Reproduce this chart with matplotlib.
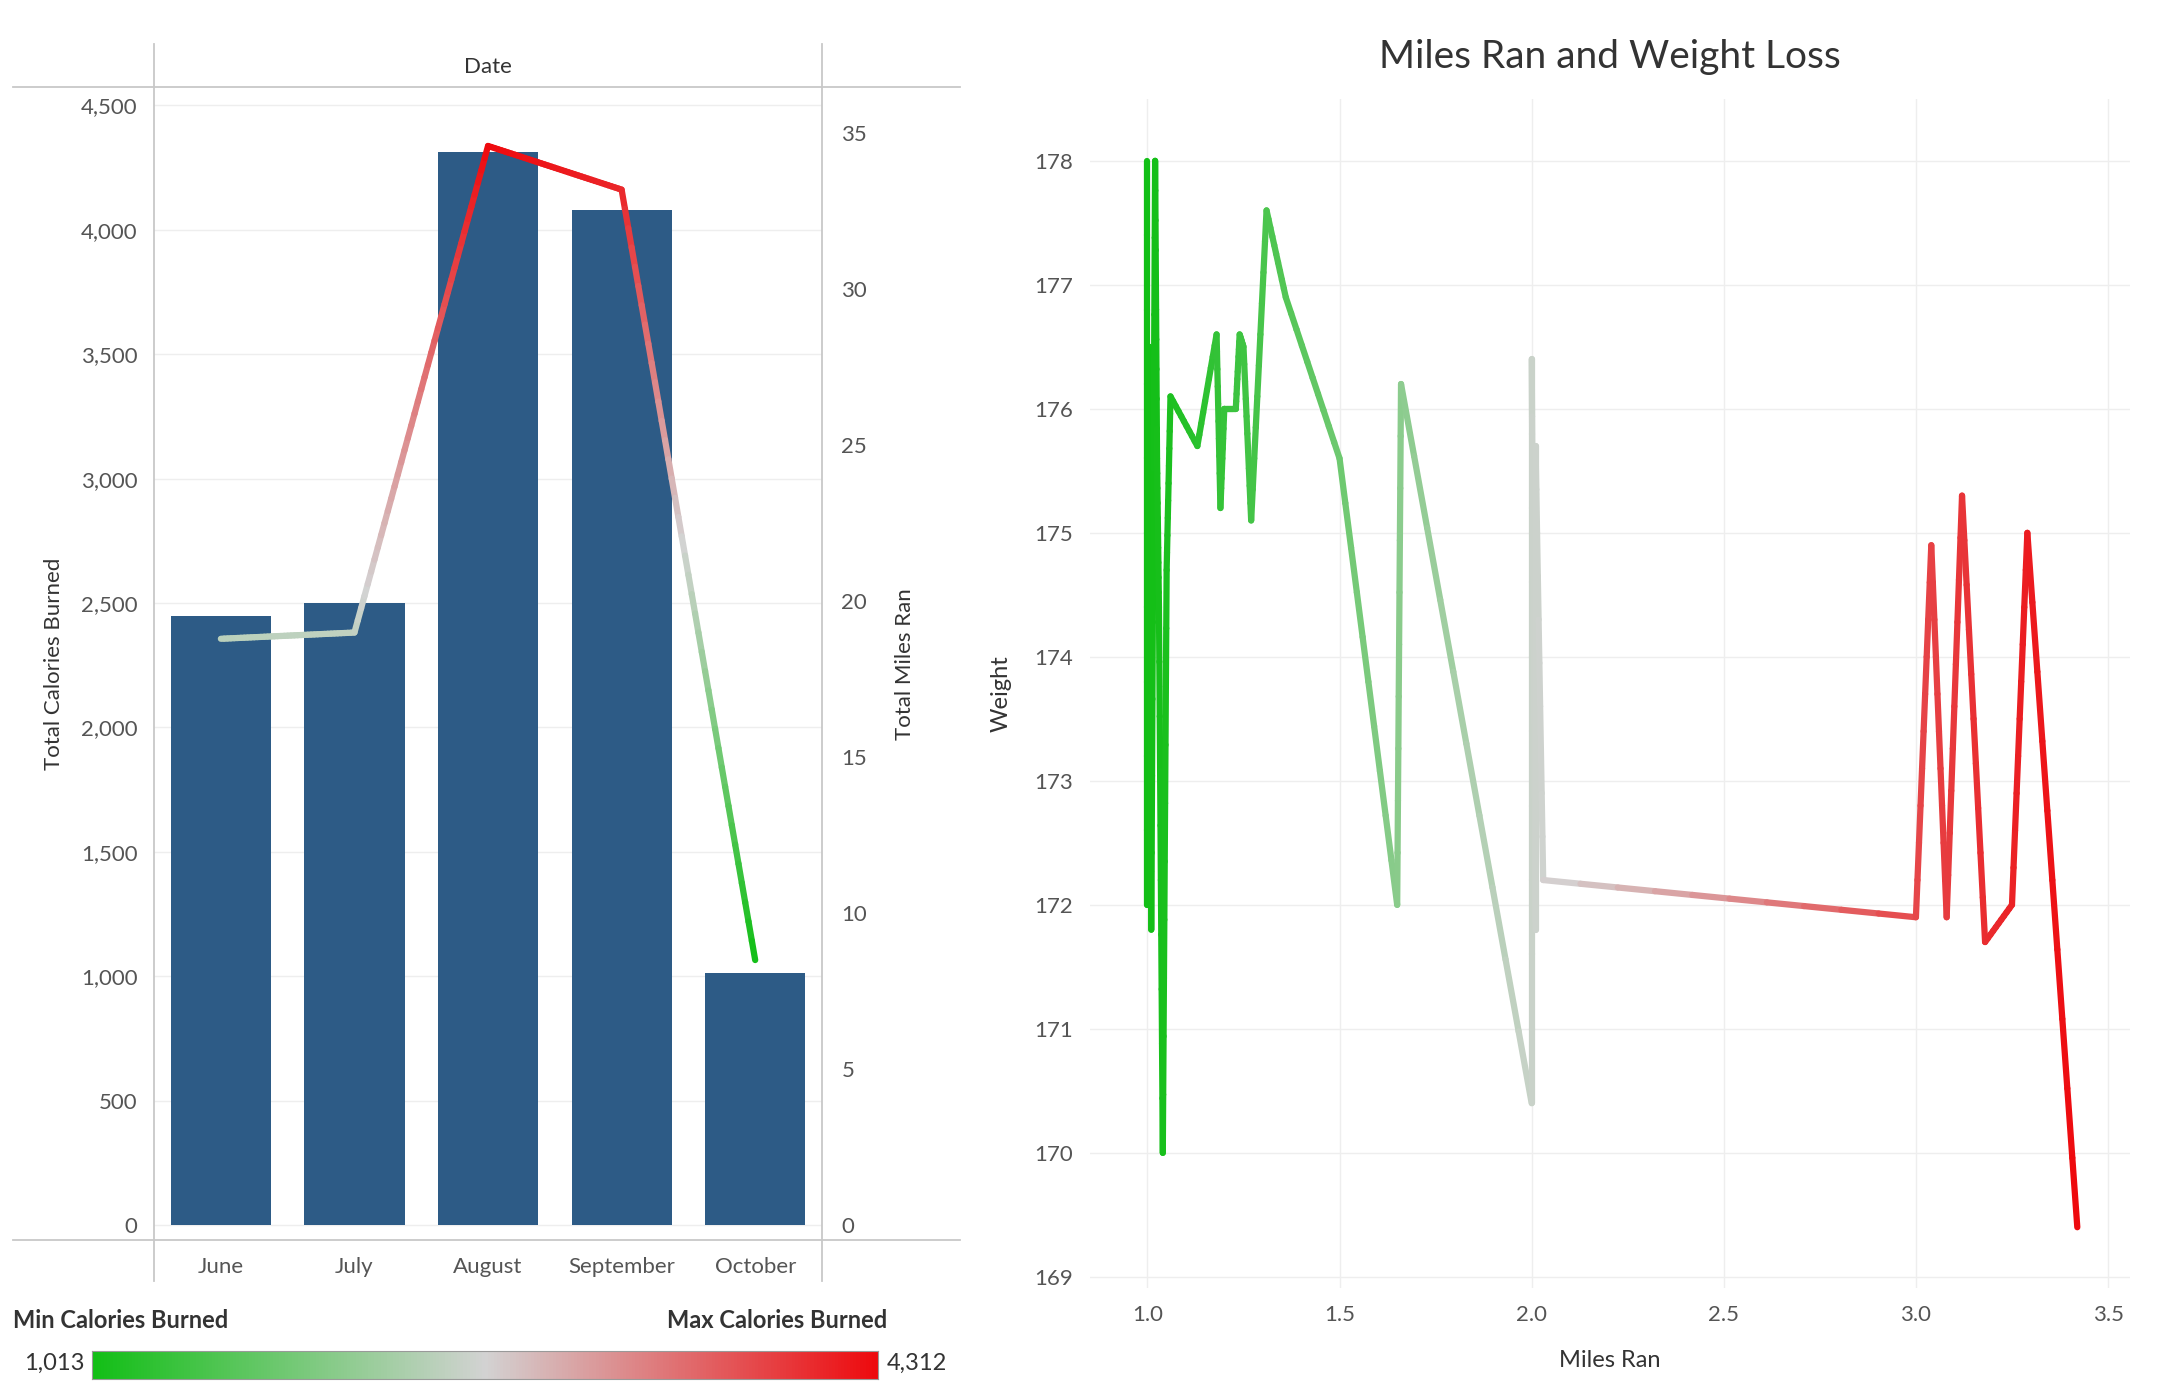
import numpy as np
import matplotlib.pyplot as plt
from matplotlib.collections import LineCollection
from matplotlib.colors import LinearSegmentedColormap, Normalize, TwoSlopeNorm
from matplotlib.lines import Line2D

MONTHS = ["June", "July", "August", "September", "October"]
CALORIES = [2450, 2500, 4312, 4080, 1013]
MILES_TOTAL = [18.8, 19.0, 34.6, 33.2, 8.5]

MILES = [1.0, 1.0, 1.005, 1.01, 1.02, 1.025, 1.03, 1.04, 1.05, 1.06, 1.13, 1.18, 1.19,
         1.2, 1.23, 1.24, 1.25, 1.27, 1.31, 1.36, 1.5, 1.65, 1.66, 2.0, 2.0, 2.01, 2.01,
         2.03, 3.0, 3.04, 3.08, 3.12, 3.18, 3.25, 3.29, 3.42]
WEIGHT = [178, 172, 176.5, 171.8, 178, 175.6, 174.4, 170, 174.7, 176.1, 175.7, 176.6, 175.2,
          176, 176, 176.6, 176.5, 175.1, 177.6, 176.9, 175.6, 172, 176.2, 170.4, 176.4, 171.8,
          175.7, 172.2, 171.9, 174.9, 171.9, 175.3, 171.7, 172, 175, 169.4]

CMAP = LinearSegmentedColormap.from_list("gr", ["#12bf16", "#d3d3d3", "#ee0a0e"])
BAR = "#2d5b86"
TXT = "#555555"
AX_LINE = "#c8c8c8"

plt.rcParams.update({"font.family": ["Lato", "DejaVu Sans"], "font.size": 16})
fig = plt.figure(figsize=(21.58, 13.86), dpi=100)


def gradient_line(ax, xs, ys, cvals, norm, lw, n=40, transform=None):
    segs, cols = [], []
    for i in range(len(xs) - 1):
        t = np.linspace(0, 1, n + 1)
        px = xs[i] + (xs[i + 1] - xs[i]) * t
        py = ys[i] + (ys[i + 1] - ys[i]) * t
        pc = cvals[i] + (cvals[i + 1] - cvals[i]) * t
        for j in range(n):
            segs.append([(px[j], py[j]), (px[j + 1], py[j + 1])])
            cols.append(CMAP(norm((pc[j] + pc[j + 1]) / 2)))
    lc = LineCollection(segs, colors=cols, linewidths=lw, capstyle="round")
    ax.add_collection(lc)


# ---- left: bars + miles line
ax = fig.add_axes([0.0714, 0.105, 0.3095, 0.832])
x = np.arange(len(MONTHS))
ax.bar(x, CALORIES, width=0.75, color=BAR, zorder=2)
ax.set_xlim(-0.5, 4.5)
ax.set_ylim(-62, 4573)
ax.set_yticks(range(0, 4501, 500))
ax.set_yticklabels([f"{v:,}" for v in range(0, 4501, 500)])
ax.set_xticks(x)
ax.set_xticklabels(MONTHS)
ax.grid(axis="y", color="#eeeeee", lw=1)
ax.set_axisbelow(True)
for s in ax.spines.values():
    s.set_visible(False)
ax.tick_params(length=0, colors=TXT, labelsize=16, pad=12)
ax.set_ylabel("Total Calories Burned", fontsize=16, color="#333333", labelpad=12)

ax2 = ax.twinx()
ax2.set_ylim(-0.49, 36.48)
ax2.set_yticks(range(0, 36, 5))
for s in ax2.spines.values():
    s.set_visible(False)
ax2.tick_params(length=0, colors=TXT, labelsize=16, pad=14)
ax2.set_ylabel("Total Miles Ran", fontsize=16, color="#333333", labelpad=20)
gradient_line(ax2, list(x), MILES_TOTAL, CALORIES, Normalize(1013, 4312), 4.5)

# frame lines of the left view
for xf in (0.0714, 0.3809):
    fig.add_artist(Line2D([xf, xf], [0.076, 0.968], color=AX_LINE, lw=1.3))
for yf in (0.937, 0.105):
    fig.add_artist(Line2D([0.006, 0.445], [yf, yf], color=AX_LINE, lw=1.3))
fig.text(0.226, 0.952, "Date", ha="center", va="center", fontsize=16, color="#333333")

# ---- colour legend
cax = fig.add_axes([0.0427, 0.005, 0.364, 0.02])
cax.imshow(np.linspace(0, 1, 256)[None, :], aspect="auto", cmap=CMAP, extent=[0, 1, 0, 1])
cax.set_xticks([])
cax.set_yticks([])
for s in cax.spines.values():
    s.set_color("#999999")
fig.text(0.006, 0.047, "Min Calories Burned", fontsize=17, fontweight="bold", color="#333333", va="center")
fig.text(0.411, 0.047, "Max Calories Burned", fontsize=17, fontweight="bold", color="#333333", va="center", ha="right")
fig.text(0.039, 0.016, "1,013", fontsize=17, color="#333333", va="center", ha="right")
fig.text(0.411, 0.016, "4,312", fontsize=17, color="#333333", va="center", ha="left")

# ---- right: miles vs weight
bx = fig.add_axes([0.505, 0.0707, 0.482, 0.858])
gradient_line(bx, MILES, WEIGHT, MILES, TwoSlopeNorm(vcenter=2.05, vmin=1.0, vmax=3.42), 4.5, n=10)
bx.set_xlim(0.85, 3.557)
bx.set_ylim(168.91, 178.5)
bx.set_xticks([1.0, 1.5, 2.0, 2.5, 3.0, 3.5])
bx.set_yticks(range(169, 179))
bx.grid(color="#eeeeee", lw=1)
bx.set_axisbelow(True)
for s in bx.spines.values():
    s.set_visible(False)
bx.tick_params(length=0, colors=TXT, labelsize=16, pad=12)
bx.set_xlabel("Miles Ran", fontsize=17, color="#333333", labelpad=18)
bx.set_ylabel("Weight", fontsize=17, color="#333333", labelpad=16)
bx.set_title("Miles Ran and Weight Loss", fontsize=28, color="#333333", pad=22)

fig.savefig("out.png", dpi=100)
